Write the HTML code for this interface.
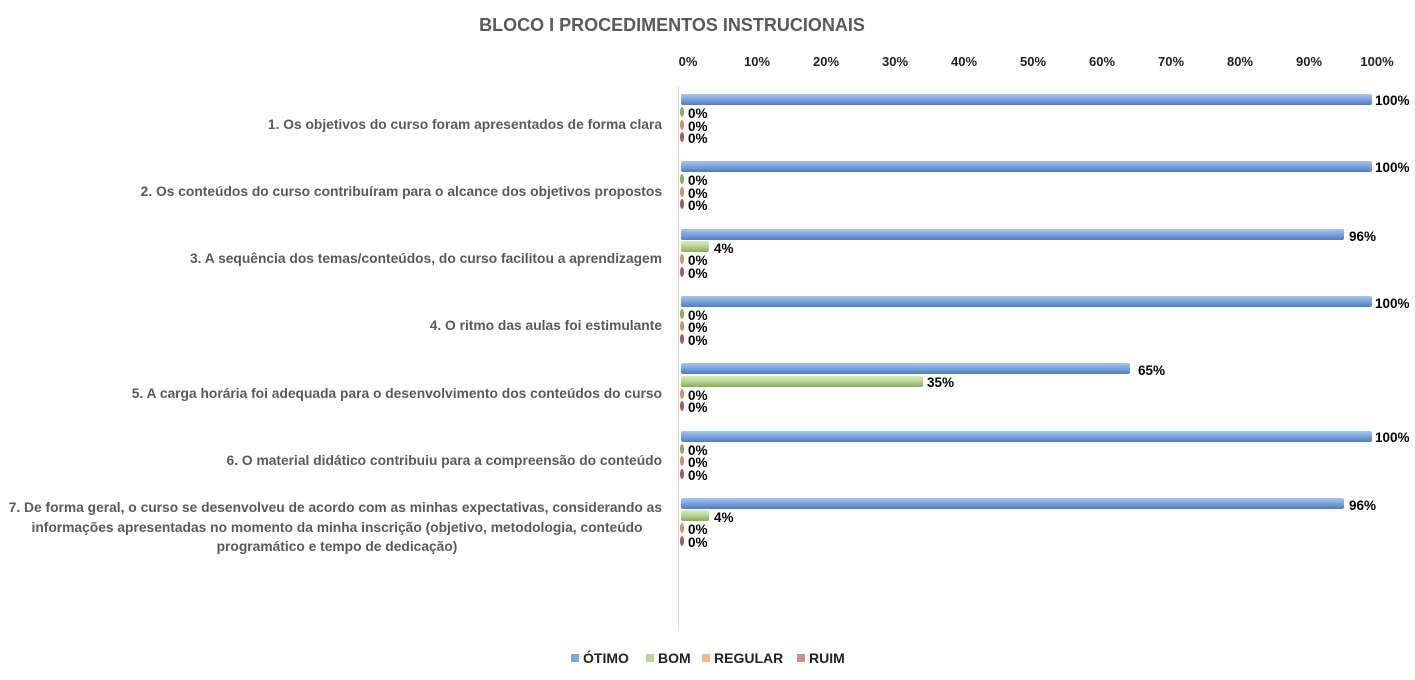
<!DOCTYPE html>
<html><head><meta charset="utf-8"><style>
body{margin:0;background:#fff}
svg{display:block;font-family:"Liberation Sans",sans-serif;font-weight:bold}
</style></head><body>
<svg width="1415" height="680" viewBox="0 0 1415 680" xmlns="http://www.w3.org/2000/svg">
<defs>
<linearGradient id="gb" x1="0" y1="0" x2="0" y2="1"><stop offset="0" stop-color="#a9c4ec"/><stop offset=".45" stop-color="#7fa6df"/><stop offset="1" stop-color="#4f7cbf"/></linearGradient>
<linearGradient id="gg" x1="0" y1="0" x2="0" y2="1"><stop offset="0" stop-color="#dcecc0"/><stop offset=".45" stop-color="#bcd695"/><stop offset="1" stop-color="#8aab5a"/></linearGradient>
</defs>
<text x="672" y="31" text-anchor="middle" font-size="18" fill="#595959">BLOCO I PROCEDIMENTOS INSTRUCIONAIS</text>
<g font-size="13" fill="#222" text-anchor="middle">
<text x="688" y="66">0%</text><text x="757" y="66">10%</text><text x="826" y="66">20%</text><text x="895" y="66">30%</text><text x="964" y="66">40%</text><text x="1033" y="66">50%</text><text x="1102" y="66">60%</text><text x="1171" y="66">70%</text><text x="1240" y="66">80%</text><text x="1309" y="66">90%</text><text x="1377" y="66">100%</text>
</g>
<line x1="678.5" y1="86" x2="678.5" y2="628" stroke="#d9d9d9"/>
<g font-size="13.8" fill="#595959" text-anchor="end">
<text x="662" y="129">1. Os objetivos do curso foram apresentados de forma clara</text>
<text x="662" y="196">2. Os conteúdos do curso contribuíram para o alcance dos objetivos propostos</text>
<text x="662" y="263">3. A sequência dos temas/conteúdos, do curso facilitou a aprendizagem</text>
<text x="662" y="330">4. O ritmo das aulas foi estimulante</text>
<text x="662" y="398">5. A carga horária foi adequada para o desenvolvimento dos conteúdos do curso</text>
<text x="662" y="465">6. O material didático contribuiu para a compreensão do conteúdo</text>
<text x="662" y="512">7. De forma geral, o curso se desenvolveu de acordo com as minhas expectativas, considerando as</text>
<text x="337" y="532" text-anchor="middle">informações apresentadas no momento da minha inscrição (objetivo, metodologia, conteúdo</text>
<text x="337" y="551" text-anchor="middle">programático e tempo de dedicação)</text>
</g>
<g font-size="13.5" fill="#000">
<rect x="681" y="94" width="691" height="11" rx="2" fill="url(#gb)"/><text x="1375" y="105">100%</text>
<ellipse cx="682" cy="112" rx="2" ry="5" fill="#8aab5a"/><text x="688" y="118">0%</text>
<ellipse cx="682" cy="125" rx="2" ry="5" fill="#c79462"/><text x="688" y="131">0%</text>
<ellipse cx="682" cy="137" rx="2" ry="5" fill="#a05a5a"/><text x="688" y="143">0%</text>
<rect x="681" y="161" width="691" height="11" rx="2" fill="url(#gb)"/><text x="1375" y="172">100%</text>
<ellipse cx="682" cy="179" rx="2" ry="5" fill="#8aab5a"/><text x="688" y="185">0%</text>
<ellipse cx="682" cy="192" rx="2" ry="5" fill="#c79462"/><text x="688" y="198">0%</text>
<ellipse cx="682" cy="204" rx="2" ry="5" fill="#a05a5a"/><text x="688" y="210">0%</text>
<rect x="681" y="229" width="663" height="11" rx="2" fill="url(#gb)"/><text x="1349" y="241">96%</text>
<rect x="681" y="241" width="28" height="11" rx="2" fill="url(#gg)"/><text x="714" y="253">4%</text>
<ellipse cx="682" cy="259" rx="2" ry="5" fill="#c79462"/><text x="688" y="265">0%</text>
<ellipse cx="682" cy="272" rx="2" ry="5" fill="#a05a5a"/><text x="688" y="278">0%</text>
<rect x="681" y="296" width="691" height="11" rx="2" fill="url(#gb)"/><text x="1375" y="308">100%</text>
<ellipse cx="682" cy="314" rx="2" ry="5" fill="#8aab5a"/><text x="688" y="320">0%</text>
<ellipse cx="682" cy="326" rx="2" ry="5" fill="#c79462"/><text x="688" y="332">0%</text>
<ellipse cx="682" cy="339" rx="2" ry="5" fill="#a05a5a"/><text x="688" y="345">0%</text>
<rect x="681" y="363" width="449" height="11" rx="2" fill="url(#gb)"/><text x="1138" y="375">65%</text>
<rect x="681" y="376" width="242" height="11" rx="2" fill="url(#gg)"/><text x="927" y="387">35%</text>
<ellipse cx="682" cy="394" rx="2" ry="5" fill="#c79462"/><text x="688" y="400">0%</text>
<ellipse cx="682" cy="406" rx="2" ry="5" fill="#a05a5a"/><text x="688" y="412">0%</text>
<rect x="681" y="431" width="691" height="11" rx="2" fill="url(#gb)"/><text x="1375" y="442">100%</text>
<ellipse cx="682" cy="449" rx="2" ry="5" fill="#8aab5a"/><text x="688" y="455">0%</text>
<ellipse cx="682" cy="461" rx="2" ry="5" fill="#c79462"/><text x="688" y="467">0%</text>
<ellipse cx="682" cy="474" rx="2" ry="5" fill="#a05a5a"/><text x="688" y="480">0%</text>
<rect x="681" y="498" width="663" height="11" rx="2" fill="url(#gb)"/><text x="1349" y="510">96%</text>
<rect x="681" y="510" width="28" height="11" rx="2" fill="url(#gg)"/><text x="714" y="522">4%</text>
<ellipse cx="682" cy="528" rx="2" ry="5" fill="#c79462"/><text x="688" y="534">0%</text>
<ellipse cx="682" cy="541" rx="2" ry="5" fill="#a05a5a"/><text x="688" y="547">0%</text>
</g>
<g font-size="14" fill="#222">
<rect x="571" y="654" width="8" height="8" fill="#7fa6df"/><text x="583" y="663">ÓTIMO</text>
<rect x="646" y="654" width="8" height="8" fill="#bcd695"/><text x="658" y="663">BOM</text>
<rect x="702" y="654" width="8" height="8" fill="#f7b98c"/><text x="714" y="663">REGULAR</text>
<rect x="797" y="654" width="8" height="8" fill="#d38f8d"/><text x="809" y="663">RUIM</text>
</g>
</svg>
</body></html>
